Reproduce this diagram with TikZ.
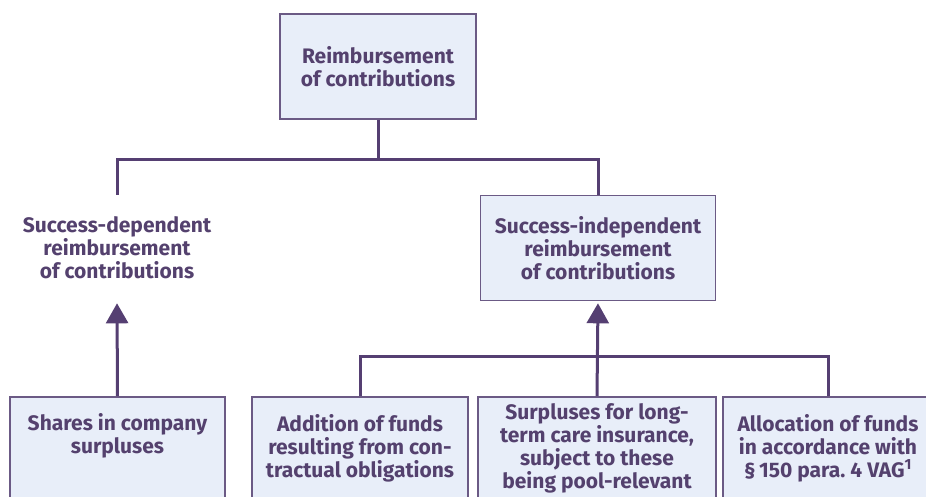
\documentclass[tikz,border=0pt]{standalone}
\usepackage{fontspec}
\setmainfont{Fira Sans}
\usetikzlibrary{positioning,arrows.meta}
\definecolor{boxfill}{HTML}{E8EEF9}
\definecolor{boxline}{HTML}{6B5A85}
\definecolor{linkcol}{HTML}{553F72}
\definecolor{txtcol}{HTML}{54416E}
\tikzset{
  box/.style={draw=boxline, line width=1.6pt, fill=boxfill, rectangle,
              align=center, text=txtcol, inner sep=0pt,
              font=\bfseries\fontsize{21}{23}\selectfont},
  plain/.style={box, draw=none, fill=none},
  link/.style={draw=linkcol, line width=3pt},
  arr/.style={link, -{Triangle[width=22pt,length=20pt]}, shorten >=2pt}
}
\begin{document}
\begin{tikzpicture}[x=1pt, y=-1pt]
  \useasboundingbox (0,0) rectangle (926,497);
  % top level
  \node[box, minimum width=196pt, minimum height=105pt] (top) at (378,66.5)
    {Reimbursement\\of contributions};
  % second level
  \node[plain, minimum width=234pt, minimum height=105pt] (dep) at (117,248)
    {Success-dependent\\reimbursement\\of contributions};
  \node[box, minimum width=235pt, minimum height=105pt] (indep) at (598,248)
    {Success-independent\\reimbursement\\of contributions};
  % bottom level
  \node[box, minimum width=215pt, minimum height=102pt] (shares) at (117.5,448)
    {Shares in company\\surpluses\\\strut};
  \node[box, minimum width=216pt, minimum height=102pt] (funds) at (360,448)
    {Addition of funds\\resulting from con-\\tractual obligations};
  \node[box, minimum width=238pt, minimum height=102pt] (care) at (597,448)
    {Surpluses for long-\\term care insurance,\\subject to these\\being pool-relevant};
  \node[box, minimum width=210pt, minimum height=102pt] (alloc) at (828,448)
    {Allocation of funds\\in accordance with\\\S\,150 para.\ 4 VAG\textsuperscript{1}};
  \coordinate (fork) at (378,160);
  \coordinate (bar) at (597,356);
  % connectors
  \draw[link] (top.south) -- (fork) -| (dep.north);
  \draw[link] (fork) -| (indep.north);
  \draw[arr] (shares.north) -- (dep.south);
  \draw[link] (funds.north) |- (bar) -| (alloc.north);
  \draw[arr] (care.north) -- (indep.south);
\end{tikzpicture}
\end{document}
